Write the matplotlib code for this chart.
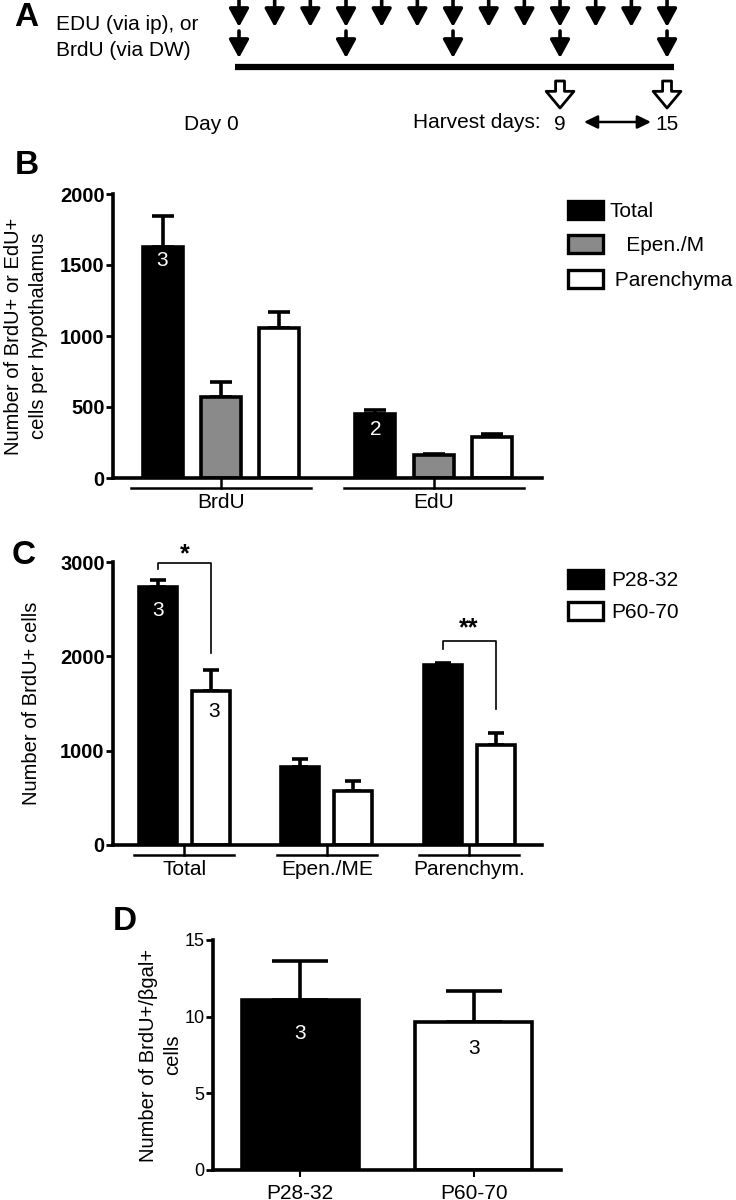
import matplotlib
matplotlib.use("Agg")
import matplotlib.pyplot as plt
from matplotlib.patches import Patch
import numpy as np

plt.rcParams["font.family"] = ["Liberation Sans", "DejaVu Sans"]

W, H = 736, 1200

# ---- panel A: schedule ----
daily_positions = list(range(13))
brdu_positions = [0, 3, 6, 9, 12]
harvest_positions = [9, 12]
harvest_labels = ["9", "15"]

# ---- panel B ----
b_groups = ["BrdU", "EdU"]
b_series = ["Total", "   Epen./M", " Parenchyma"]
b_colors = ["black", "#8a8a8a", "white"]
b_means = [[1626, 568, 1057], [449, 164, 288]]
b_upper = [[1843, 678, 1170], [480, 171, 311]]
b_n = [("3", 0, 0, 1530), ("2", 1, 0, 340)]

# ---- panel C ----
c_groups = ["Total", "Epen./ME", "Parenchym."]
c_series = ["P28-32", "P60-70"]
c_colors = ["black", "white"]
c_means = [[2735, 1631], [822, 572], [1906, 1059]]
c_upper = [[2813, 1853], [914, 678], [1931, 1182]]

# ---- panel D ----
d_groups = ["P28-32", "P60-70"]
d_means = [11.1, 9.65]
d_upper = [13.6, 11.7]
d_colors = ["black", "white"]

LW = 2.6
FS = 15


def px_axes(fig, left, top, right, bottom):
    return fig.add_axes([left / W, 1 - bottom / H, (right - left) / W, (bottom - top) / H])


def style_axes(ax, bold=True, size=14.5):
    for side in ("top", "right"):
        ax.spines[side].set_visible(False)
    for side in ("left", "bottom"):
        ax.spines[side].set_linewidth(LW)
    ax.tick_params(axis="y", width=2, length=5, labelsize=size, pad=1)
    for lab in ax.get_yticklabels():
        lab.set_fontweight("bold" if bold else "normal")


def group_underlines(ax, centers, half):
    trans = ax.get_xaxis_transform()
    for c in centers:
        ax.plot([c - half, c + half], [-0.035, -0.035], color="k", lw=1.8,
                transform=trans, clip_on=False)
        ax.plot([c, c], [0, -0.035], color="k", lw=1.8, transform=trans, clip_on=False)


def bars(ax, x, vals, upper, colors, width, capsize):
    vals = np.asarray(vals)
    upper = np.asarray(upper)
    ax.errorbar(x, vals, yerr=[np.zeros_like(vals), upper - vals], fmt="none",
                ecolor="k", elinewidth=LW, capsize=capsize, capthick=LW, zorder=1)
    ax.bar(x, vals, width=width, color=colors, edgecolor="k", linewidth=LW, zorder=2)


fig = plt.figure(figsize=(W / 100, H / 100), dpi=100)

# ================= A =================
step = 35.67
axA = px_axes(fig, 0, 0, W, 135)
axA.set_xlim(-239 / step, (W - 239) / step)
axA.set_ylim(135, 0)
axA.axis("off")
head = dict(arrowstyle="-|>,head_length=0.55,head_width=0.3", lw=2.6, color="k",
            shrinkA=0, shrinkB=0, mutation_scale=20)
for d in daily_positions:
    axA.annotate("", xy=(d, 27), xytext=(d, 0), arrowprops=head)
for d in brdu_positions:
    axA.annotate("", xy=(d, 58), xytext=(d, 31), arrowprops=head)
axA.plot([daily_positions[0] - 0.1, daily_positions[-1] + 0.2], [67, 67], color="k", lw=4.5,
         solid_capstyle="butt")
for d, lab in zip(harvest_positions, harvest_labels):
    axA.annotate("", xy=(d, 108), xytext=(d, 81),
                 arrowprops=dict(arrowstyle="simple,head_length=0.6,head_width=1.0,tail_width=0.32",
                                 fc="white", ec="k", lw=2, shrinkA=0, shrinkB=0,
                                 mutation_scale=20))
    axA.text(d, 124, lab, ha="center", va="center", fontsize=FS)
axA.annotate("", xy=(9.67, 122), xytext=(11.55, 122),
             arrowprops=dict(arrowstyle="<|-|>,head_length=0.45,head_width=0.22",
                             lw=1.8, color="k", shrinkA=0, shrinkB=0, mutation_scale=18))
axA.text(0.0, 124, "Day 0", ha="right", va="center", fontsize=FS)
axA.text(8.45, 123, "Harvest days:", ha="right", va="center", fontsize=FS)
axA.text((14 - 239) / step, 18, "A", ha="left", va="center", fontsize=24, fontweight="bold")
axA.text((56 - 239) / step, 24, "EDU (via ip), or", ha="left", va="center", fontsize=FS)
axA.text((56 - 239) / step, 50, "BrdU (via DW)", ha="left", va="center", fontsize=FS)

# ================= B =================
axB = px_axes(fig, 113, 194, 542, 478)
b_off = 58.5 / 213
b_w = 40 / 213
for gi, g in enumerate(b_groups):
    x = gi + (np.arange(3) - 1) * b_off
    bars(axB, x, b_means[gi], b_upper[gi], b_colors, b_w, 8)
axB.set_xlim(-108 / 213, 1 + 108 / 213)
axB.set_ylim(0, 2000)
axB.set_yticks([0, 500, 1000, 1500, 2000])
axB.set_xticks([])
style_axes(axB)
group_underlines(axB, [0, 1], 90 / 213)
for gi, g in enumerate(b_groups):
    axB.text(gi, -0.085, g, transform=axB.get_xaxis_transform(), ha="center", va="center",
             fontsize=FS)
for txt, gi, si, y in b_n:
    axB.text(gi + (si - 1) * b_off, y, txt, ha="center", va="center", color="white", fontsize=FS)
axB.set_ylabel("Number of BrdU+ or EdU+\ncells per hypothalamus", fontsize=14.5, linespacing=1.4)
axB.yaxis.set_label_coords(-0.152, 0.5)
fig.text(15 / W, 1 - 165 / H, "B", ha="left", va="center", fontsize=24, fontweight="bold")
axB.legend([Patch(fc=c, ec="k", lw=2.4) for c in b_colors], b_series,
           loc="upper left", bbox_to_anchor=(568 / W, 1 - 201 / H),
           bbox_transform=fig.transFigure, frameon=False, fontsize=FS,
           handlelength=1.68, handleheight=0.95, handletextpad=0.3, labelspacing=0.68,
           borderaxespad=0, borderpad=0)

# ================= C =================
axC = px_axes(fig, 113, 562, 542, 845)
c_off = 26.5 / 142.5
c_w = 38 / 142.5
for si, s in enumerate(c_series):
    x = np.arange(3) + (si - 0.5) * 2 * c_off
    bars(axC, x, [m[si] for m in c_means], [u[si] for u in c_upper],
         c_colors[si], c_w, 6)
axC.set_xlim(-71.5 / 142.5, 2 + 73 / 142.5)
axC.set_ylim(0, 3000)
axC.set_yticks([0, 1000, 2000, 3000])
axC.set_xticks([])
style_axes(axC)
group_underlines(axC, [0, 1, 2], 50 / 142.5)
for gi, g in enumerate(c_groups):
    axC.text(gi, -0.088, g, transform=axC.get_xaxis_transform(), ha="center", va="center",
             fontsize=FS)
# significance brackets: group, bracket top, left end, right end, stars, star height
brackets = [(0, 2990, 2930, 2036, "*", 3080), (2, 2160, 2082, 1440, "**", 2300)]
for gi, ytop, yl, yr, star, ys in brackets:
    xl, xr = gi - c_off, gi + c_off
    axC.plot([xl, xl, xr, xr], [yl, ytop, ytop, yr], color="k", lw=1.2, clip_on=False)
    axC.text(gi, ys, star, ha="center", va="center", fontsize=18, fontweight="bold")
axC.text(-c_off, 2490, "3", ha="center", va="center", color="white", fontsize=FS)
axC.text(c_off + 0.02, 1420, "3", ha="center", va="center", color="black", fontsize=FS)
axC.set_ylabel("Number of BrdU+ cells", fontsize=14.5)
axC.yaxis.set_label_coords(-0.168, 0.5)
fig.text(12 / W, 1 - 555 / H, "C", ha="left", va="center", fontsize=24, fontweight="bold")
axC.legend([Patch(fc=c, ec="k", lw=2.4) for c in c_colors], c_series,
           loc="upper left", bbox_to_anchor=(568 / W, 1 - 570 / H),
           bbox_transform=fig.transFigure, frameon=False, fontsize=FS,
           handlelength=1.68, handleheight=0.95, handletextpad=0.4, labelspacing=0.55,
           borderaxespad=0, borderpad=0)

# ================= D =================
axD = px_axes(fig, 213, 940, 561, 1170)
d_w = 117 / 173
bars(axD, np.arange(2), d_means, d_upper, d_colors, d_w, 20)
axD.set_xlim(-87 / 173, 1 + 87 / 173)
axD.set_ylim(0, 15)
axD.set_yticks([0, 5, 10, 15])
axD.set_xticks(np.arange(2))
axD.set_xticklabels(d_groups, fontsize=FS)
axD.tick_params(axis="x", width=1.5, length=5, pad=5)
style_axes(axD, bold=False, size=13)
axD.text(0, 8.9, "3", ha="center", va="center", color="white", fontsize=FS)
axD.text(1, 7.95, "3", ha="center", va="center", color="black", fontsize=FS)
axD.set_ylabel("Number of BrdU+/\u03b2gal+\ncells", fontsize=14.5, linespacing=1.3)
axD.yaxis.set_label_coords(-0.09, 0.5)
fig.text(113 / W, 1 - 922 / H, "D", ha="left", va="center", fontsize=24, fontweight="bold")

fig.savefig("out.png", dpi=100)
